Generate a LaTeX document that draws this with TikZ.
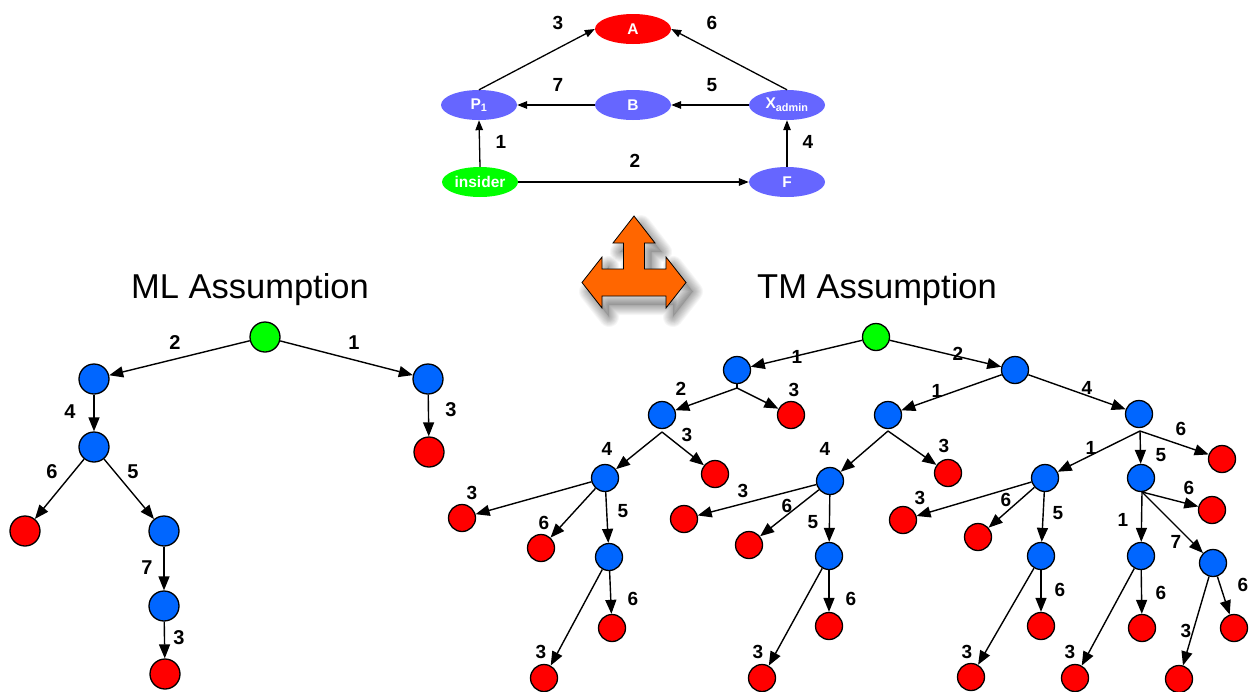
\documentclass[tikz,border=0pt]{standalone}
\usepackage{fontspec}
\setmainfont{Liberation Sans}
\usetikzlibrary{arrows.meta,shapes.geometric}
\definecolor{tblue}{RGB}{0,102,255}
\definecolor{tred}{RGB}{255,0,0}
\definecolor{tgreen}{RGB}{0,255,0}
\definecolor{gblue}{RGB}{102,102,255}
\definecolor{orng}{RGB}{255,102,0}
\begin{document}
\begin{tikzpicture}[x=1pt,y=-1pt,
  gnode/.style={ellipse, minimum width=76pt, minimum height=30pt, inner sep=0pt, text=white, font=\fontsize{15.5}{17}\selectfont\bfseries},
  gedge/.style={-{Triangle[length=10pt,width=7.5pt]}, line width=1.3pt},
  glbl/.style={font=\fontsize{19}{22}\selectfont\bfseries, inner sep=0pt},
  bigc/.style={circle, draw, line width=1.3pt, minimum size=30pt, inner sep=0pt},
  smc/.style={circle, draw, line width=1.3pt, minimum size=27pt, inner sep=0pt},
  tedge/.style={-{Triangle[length=14pt,width=11pt]}, line width=1.4pt},
  llbl/.style={font=\fontsize{20}{22}\selectfont\bfseries, inner sep=0pt},
  rlbl/.style={font=\fontsize{19}{22}\selectfont\bfseries, inner sep=0pt},
  ttl/.style={font=\fontsize{34.5}{40}\selectfont, inner sep=0pt}
]
\useasboundingbox[fill=white] (0,0) rectangle (1250,691);

% ---------- top graph ----------
\node[gnode, fill=tred]   (A) at (633,29) {A};
\node[gnode, fill=gblue]  (P) at (479,105) {P\textsubscript{1}};
\node[gnode, fill=gblue]  (B) at (633,105) {B};
\node[gnode, fill=gblue]  (X) at (787,105) {X\textsubscript{admin}};
\node[gnode, fill=tgreen] (I) at (480,182) {insider};
\node[gnode, fill=gblue]  (F) at (787,182) {F};
\draw[gedge] (P.north) -- (A.west);
\draw[gedge] (X.north) -- (A.east);
\draw[gedge] (B.west) -- (P.east);
\draw[gedge] (X.west) -- (B.east);
\draw[gedge] (I.north) -- (P.south);
\draw[gedge] (I.east) -- (F.west);
\draw[gedge] (F.north) -- (X.south);
\node[glbl] (g3) at (558,23) {3};
\node[glbl] (g6) at (712,23) {6};
\node[glbl] (g7) at (558,85) {7};
\node[glbl] (g5) at (712,85) {5};
\node[glbl] (g1) at (501,142) {1};
\node[glbl] (g2) at (635,161) {2};
\node[glbl] (g4) at (808,142) {4};

% ---------- orange three-way arrow ----------
\def\arrowshape{(634,216) -- (655,243) -- (644.5,243) -- (644.5,269) -- (666,269) -- (666,257) -- (686,282.5) -- (666,308) -- (666,296) -- (602,296) -- (602,308) -- (582,282.5) -- (602,257) -- (602,269) -- (623.5,269) -- (623.5,243) -- (613,243) -- cycle}
\begin{scope}[shift={(7,9)}]
  \fill[black, opacity=0.12] \arrowshape;
  \foreach \w in {2,4,...,20}{
    \draw[black, opacity=0.035, line width=\w pt, line join=round] \arrowshape;
  }
\end{scope}
\filldraw[fill=orng, draw=black, line width=0.8pt, line join=miter] \arrowshape;

% ---------- titles ----------
\node[ttl] (mlt) at (250,290) {ML Assumption};
\node[ttl] (tmt) at (877,290) {TM Assumption};

% ---------- ML tree ----------
\node[bigc, fill=tgreen] (Lr) at (265,337) {};
\node[bigc, fill=tblue]  (La) at (94,379) {};
\node[bigc, fill=tblue]  (Lb) at (428,379) {};
\node[bigc, fill=tred]   (Lc) at (429,452) {};
\node[bigc, fill=tblue]  (Ld) at (94,447) {};
\node[bigc, fill=tred]   (Le) at (25,531) {};
\node[bigc, fill=tblue]  (Lf) at (164,531) {};
\node[bigc, fill=tblue]  (Lg) at (164,606) {};
\node[bigc, fill=tred]   (Lh) at (165,674) {};
\draw[tedge] (Lr) -- (La);
\draw[tedge] (Lr) -- (Lb);
\draw[tedge] (Lb) -- (Lc);
\draw[tedge] (La) -- (Ld);
\draw[tedge] (Ld) -- (Le);
\draw[tedge] (Ld) -- (Lf);
\draw[tedge] (Lf) -- (Lg);
\draw[tedge] (Lg) -- (Lh);
\node[llbl] (ml2) at (175,343) {2};
\node[llbl] (ml1) at (354,343) {1};
\node[llbl] (ml3a) at (451,410) {3};
\node[llbl] (ml4) at (70,412) {4};
\node[llbl] (ml6) at (52,472) {6};
\node[llbl] (ml5) at (133,472) {5};
\node[llbl] (ml7) at (147,568) {7};
\node[llbl] (ml3b) at (179,638) {3};

% ---------- TM tree ----------
\node[smc, fill=tgreen] (Rr) at (876,337) {};
\node[smc, fill=tblue] (R1) at (737,370) {};
\node[smc, fill=tblue] (R2) at (662,415) {};
\node[smc, fill=tred]  (R3) at (791,415) {};
\node[smc, fill=tblue] (R4) at (605,478) {};
\node[smc, fill=tred]  (R5) at (715,474) {};
\node[smc, fill=tred]  (R6) at (462,518) {};
\node[smc, fill=tred]  (R7) at (541,548) {};
\node[smc, fill=tblue] (R8) at (609,557) {};
\node[smc, fill=tred]  (R9) at (612,628) {};
\node[smc, fill=tred]  (R10) at (544,678) {};
\node[smc, fill=tblue] (S1) at (1015,370) {};
\node[smc, fill=tblue] (S2) at (888,415) {};
\node[smc, fill=tred]  (S3) at (948,473) {};
\node[smc, fill=tblue] (S4) at (830,481) {};
\node[smc, fill=tred]  (S5) at (684,519) {};
\node[smc, fill=tred]  (S6) at (749,545) {};
\node[smc, fill=tblue] (S7) at (829,556) {};
\node[smc, fill=tred]  (S8) at (829,626) {};
\node[smc, fill=tred]  (S9) at (762,678) {};
\node[smc, fill=tblue] (T1) at (1139,414) {};
\node[smc, fill=tred]  (T2) at (1222,459) {};
\node[smc, fill=tblue] (T3) at (1045,478) {};
\node[smc, fill=tblue] (T4) at (1141,478) {};
\node[smc, fill=tred]  (T5) at (903,520) {};
\node[smc, fill=tred]  (T6) at (978,537) {};
\node[smc, fill=tblue] (T7) at (1041,556) {};
\node[smc, fill=tred]  (T8) at (1041,626) {};
\node[smc, fill=tred]  (T9) at (971,677) {};
\node[smc, fill=tred]  (T10) at (1212,510) {};
\node[smc, fill=tblue] (T11) at (1141,556) {};
\node[smc, fill=tblue] (T12) at (1213,563) {};
\node[smc, fill=tred]  (T13) at (1142,628) {};
\node[smc, fill=tred]  (T14) at (1075,678) {};
\node[smc, fill=tred]  (T15) at (1234,628) {};
\node[smc, fill=tred]  (T16) at (1179,679) {};

\coordinate (R1s) at (737,388);
\coordinate (R2s) at (662,432);
\coordinate (S2s) at (888,431);
\coordinate (T1s) at (1140,431);
\coordinate (T4s) at (1142,492);

\draw[tedge] (Rr) -- (R1);
\draw[tedge] (Rr) -- (S1);
\draw[line width=1.4pt] (R1.south) -- (R1s);
\draw[tedge] (R1s) -- (R2);
\draw[tedge] (R1s) -- (R3);
\draw[tedge] (R2s) -- (R4);
\draw[tedge] (R2s) -- (R5);
\draw[tedge] (R4) -- (R6);
\draw[tedge] (R4) -- (R7);
\draw[tedge] (R4) -- (R8);
\draw[tedge] (R8) -- (R9);
\draw[tedge] (R8) -- (R10);
\draw[tedge] (S1) -- (S2);
\draw[tedge] (S1) -- (T1);
\draw[tedge] (S2s) -- (S3);
\draw[tedge] (S2s) -- (S4);
\draw[tedge] (S4) -- (S5);
\draw[tedge] (S4) -- (S6);
\draw[tedge] (S4) -- (S7);
\draw[tedge] (S7) -- (S8);
\draw[tedge] (S7) -- (S9);
\draw[tedge] (T1s) -- (T2);
\draw[tedge] (T1s) -- (T3);
\draw[tedge] (T1s) -- (T4);
\draw[tedge] (T3) -- (T5);
\draw[tedge] (T3) -- (T6);
\draw[tedge] (T3) -- (T7);
\draw[tedge] (T7) -- (T8);
\draw[tedge] (T7) -- (T9);
\draw[tedge] (T4s) -- (T10);
\draw[tedge] (T4s) -- (T11);
\draw[tedge] (T4s) -- (T12);
\draw[tedge] (T11) -- (T13);
\draw[tedge] (T11) -- (T14);
\draw[tedge] (T12) -- (T15);
\draw[tedge] (T12) -- (T16);

\node[rlbl] (tl1) at (797,357) {1};
\node[rlbl] (tl2) at (958,354) {2};
\node[rlbl] (tl3) at (681,389) {2};
\node[rlbl] (tl4) at (794,390) {3};
\node[rlbl] (tl5) at (687,435) {3};
\node[rlbl] (tl6) at (607,449) {4};
\node[rlbl] (tl7) at (472,493) {3};
\node[rlbl] (tl8) at (544,523) {6};
\node[rlbl] (tl9) at (623,511) {5};
\node[rlbl] (tl10) at (633,599) {6};
\node[rlbl] (tl11) at (541,652) {3};
\node[rlbl] (tl12) at (825,449) {4};
\node[rlbl] (tl13) at (743,491) {3};
\node[rlbl] (tl14) at (787,506) {6};
\node[rlbl] (tl15) at (813,522) {5};
\node[rlbl] (tl16) at (851,599) {6};
\node[rlbl] (tl17) at (758,652) {3};
\node[rlbl] (tl18) at (937,391) {1};
\node[rlbl] (tl19) at (1087,388) {4};
\node[rlbl] (tl20) at (944,446) {3};
\node[rlbl] (tl21) at (1181,429) {6};
\node[rlbl] (tl22) at (1091,448) {1};
\node[rlbl] (tl23) at (1161,455) {5};
\node[rlbl] (tl24) at (920,498) {3};
\node[rlbl] (tl25) at (1006,500) {6};
\node[rlbl] (tl26) at (1058,513) {5};
\node[rlbl] (tl27) at (1189,488) {6};
\node[rlbl] (tl28) at (1123,520) {1};
\node[rlbl] (tl29) at (1176,542) {7};
\node[rlbl] (tl30) at (1060,590) {6};
\node[rlbl] (tl31) at (967,652) {3};
\node[rlbl] (tl32) at (1161,593) {6};
\node[rlbl] (tl33) at (1070,652) {3};
\node[rlbl] (tl34) at (1243,585) {6};
\node[rlbl] (tl35) at (1186,631) {3};
\end{tikzpicture}
\end{document}
